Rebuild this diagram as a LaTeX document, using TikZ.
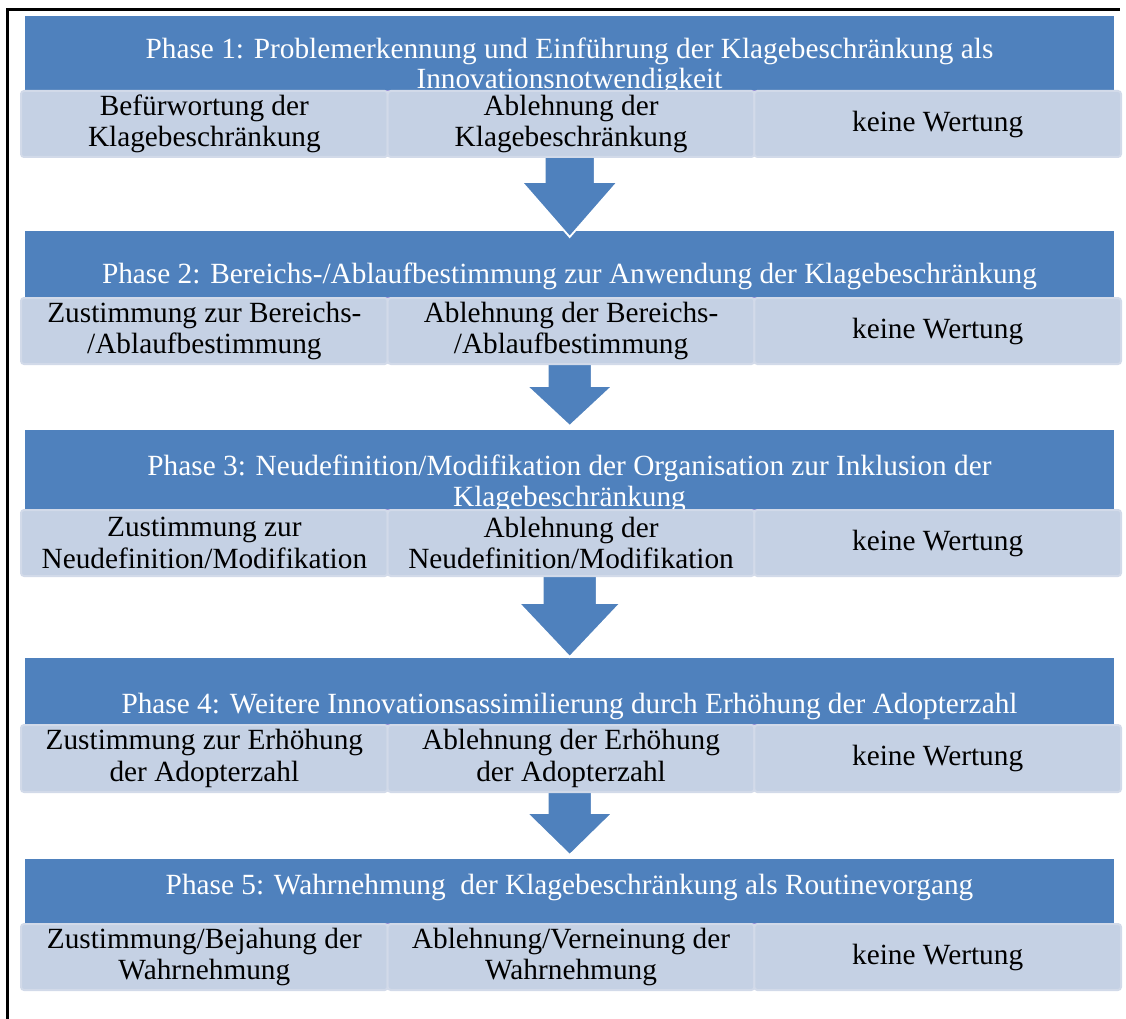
\documentclass[tikz,border=0pt]{standalone}
\usepackage{fontspec}
\setmainfont{Liberation Serif}
\usetikzlibrary{calc}

\definecolor{hdrblue}{RGB}{79,129,189}
\definecolor{cellfill}{RGB}{197,209,228}
\definecolor{celledge}{RGB}{210,218,233}
\definecolor{hdredge}{RGB}{150,140,215}

\newcommand\phasefont{\fontsize{29.3}{31.5}\selectfont}

% block arrow from the bottom of one row to the top of the next header
% #1 from, #2 to, #3 stem half width, #4 head half width, #5 stem length, #6 tip depth
\newcommand\blockarrow[6]{%
  \filldraw[arrowbody] let \p1=(#1.south), \p2=(#2.north) in
    (\x2-#3,\y1+6pt) -- (\x2-#3,\y1-#5) -- (\x2-#4,\y1-#5) -- (\x2,\y2-#6)
    -- (\x2+#4,\y1-#5) -- (\x2+#3,\y1-#5) -- (\x2+#3,\y1+6pt) -- cycle;}

\begin{document}
\begin{tikzpicture}[x=1pt,y=-1pt,
  header/.style={fill=hdrblue, draw=none, inner sep=0pt, anchor=north west,
    minimum width=1089pt},
  htext/.style={anchor=base, text=white, font=\phasefont, inner sep=0pt},
  cell/.style={fill=cellfill, draw=celledge, line width=2pt, rounded corners=3pt,
    inner sep=0pt, anchor=north west, minimum width=366.7pt, align=center,
    font=\phasefont},
  arrowbody/.style={fill=hdrblue, draw=white, line width=1.8pt, line join=miter},
  hline/.style={draw=hdredge, line width=1.2pt},
  frame/.style={draw=black, line width=3.6pt}]

\useasboundingbox (0,0) rectangle (1126,1019);

% outer frame (top and left)
\coordinate (fb) at (7.5,1019);
\coordinate (fc) at (7.5,9.5);
\coordinate (fe) at (1120,9.5);
\draw[frame] (fb) -- (fc) -- (fe);

% phase headers
\node[header, minimum height=74pt] (h1) at (25,16) {};
\node[header, minimum height=66pt] (h2) at (25,231) {};
\node[header, minimum height=79pt] (h3) at (25,430) {};
\node[header, minimum height=66pt] (h4) at (25,658) {};
\node[header, minimum height=64pt] (h5) at (25,859) {};
\foreach \h in {h1,h2,h3,h4,h5}{\draw[hline] (\h.south west) -- (\h.south east);}

% header texts
\node[htext] (t1a) at (569.5,59) {Phase 1: Problemerkennung und Einführung der Klagebeschränkung als};
\node[htext] (t1b) at (569.5,89) {Innovationsnotwendigkeit};
\node[htext] (t2) at (569.5,283) {Phase 2: Bereichs-/Ablaufbestimmung zur Anwendung der Klagebeschränkung};
\node[htext] (t3a) at (569.5,475) {Phase 3: Neudefinition/Modifikation der Organisation zur Inklusion der};
\node[htext] (t3b) at (569.5,506) {Klagebeschränkung};
\node[htext] (t4) at (569.5,713) {Phase 4: Weitere Innovationsassimilierung durch Erhöhung der Adopterzahl};
\node[htext] (t5) at (569.5,894) {Phase 5: Wahrnehmung\ \ der Klagebeschränkung als Routinevorgang};

% connecting arrows
\coordinate (r1) at (570,156);
\coordinate (r2) at (570,363);
\coordinate (r3) at (570,575);
\coordinate (r4) at (570,791);
\blockarrow{r1}{h2}{25pt}{48pt}{26pt}{6pt}
\blockarrow{r2}{h3}{22pt}{43pt}{23pt}{-4pt}
\blockarrow{r3}{h4}{27pt}{51pt}{28pt}{-1pt}
\blockarrow{r4}{h5}{22pt}{43pt}{22pt}{-4pt}

% rows of assessments
\node[cell, minimum height=66pt] (c11) at (20,90) {Befürwortung der\\Klagebeschränkung};
\node[cell, minimum height=66pt] (c12) at (386.7,90) {Ablehnung der\\Klagebeschränkung};
\node[cell, minimum height=66pt] (c13) at (753.3,90) {keine Wertung};

\node[cell, minimum height=66pt] (c21) at (20,297) {Zustimmung zur Bereichs-\\/Ablaufbestimmung};
\node[cell, minimum height=66pt] (c22) at (386.7,297) {Ablehnung der Bereichs-\\/Ablaufbestimmung};
\node[cell, minimum height=66pt] (c23) at (753.3,297) {keine Wertung};

\node[cell, minimum height=66pt] (c31) at (20,509) {Zustimmung zur\\Neudefinition/Modifikation};
\node[cell, minimum height=66pt] (c32) at (386.7,509) {Ablehnung der\\Neudefinition/Modifikation};
\node[cell, minimum height=66pt] (c33) at (753.3,509) {keine Wertung};

\node[cell, minimum height=67pt] (c41) at (20,724) {Zustimmung zur Erhöhung\\der Adopterzahl};
\node[cell, minimum height=67pt] (c42) at (386.7,724) {Ablehnung der Erhöhung\\der Adopterzahl};
\node[cell, minimum height=67pt] (c43) at (753.3,724) {keine Wertung};

\node[cell, minimum height=66pt] (c51) at (20,923) {Zustimmung/Bejahung der\\Wahrnehmung};
\node[cell, minimum height=66pt] (c52) at (386.7,923) {Ablehnung/Verneinung der\\Wahrnehmung};
\node[cell, minimum height=66pt] (c53) at (753.3,923) {keine Wertung};

\end{tikzpicture}
\end{document}
